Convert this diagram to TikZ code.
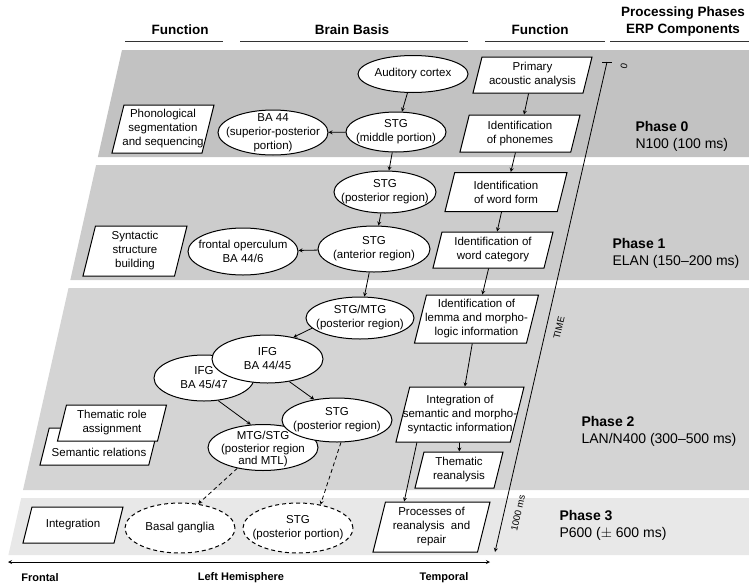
\documentclass[tikz,border=0pt]{standalone}
\usepackage{fontspec}
\setmainfont{Liberation Sans}
\usetikzlibrary{shapes.geometric}
\newcommand{\boxfont}{\fontsize{11.5}{14}\selectfont}
\newcommand{\headfont}{\fontsize{13.5}{17}\selectfont\bfseries}
\newcommand{\phasefont}{\fontsize{14}{17}\selectfont}
\newcommand{\axisfont}{\fontsize{11}{13}\selectfont\bfseries}
\newcommand{\timefont}{\fontsize{9.5}{11}\selectfont}
\begin{document}
\begin{tikzpicture}[>=stealth,x=1pt,y=-1pt,
		brain/.style 2 args={ellipse,draw,fill=white,line width=1pt,inner sep=0pt,minimum width=#1,minimum height=#2},
		task/.style 2 args={trapezium,trapezium left angle=76,trapezium right angle=104,draw,fill=white,line width=1pt,inner xsep={#1/2-#2*0.2493},inner ysep={#2/2}},
		txt/.style={align=center,font=\boxfont,inner sep=0pt},
		flow/.style={->,line width=0.8pt},
		dashpat/.style={dash pattern=on 4pt off 3pt},
		rule/.style={line width=1pt,black!80}]
		\useasboundingbox (0,0) rectangle (749,584);
		\fill[black!24] (122,50) -- (749,50) -- (749,157) -- (97.9,157) -- cycle;
		\fill[black!20] (96.1,165) -- (749,165) -- (749,280) -- (70.3,280) -- cycle;
		\fill[black!17] (68.5,288) -- (749,288) -- (749,490) -- (23,490) -- cycle;
		\fill[black!9] (21.2,498) -- (749,498) -- (749,555) -- (8.4,555) -- cycle;
		\node[font=\headfont] (hfl) at (180,30) {Function};
		\node[font=\headfont] (hbb) at (352,30) {Brain Basis};
		\node[font=\headfont] (hfr) at (540,30) {Function};
		\node[font=\headfont,align=center] (hpp) at (683,21.5) {Processing Phases\\ERP Components};
		\draw[rule] (125,41) -- (223,41);
		\draw[rule] (240,41) -- (468,41);
		\draw[rule] (485,41) -- (605,41);
		\draw[rule] (610,41) -- (749,41);
		\node[anchor=west,align=left,font=\phasefont] (ph0) at (632,136.5) {\textbf{Phase 0}\\N100 (100 ms)};
		\node[anchor=west,align=left,font=\phasefont] (ph1) at (609,253.5) {\textbf{Phase 1}\\ELAN (150--200 ms)};
		\node[anchor=west,align=left,font=\phasefont] (ph2) at (578,431.5) {\textbf{Phase 2}\\LAN/N400 (300--500 ms)};
		\node[anchor=west,align=left,font=\phasefont] (ph3) at (556,525) {\textbf{Phase 3}\\P600 ($\pm$ 600 ms)};
		\coordinate (t0) at (607,62);
		\coordinate (t1) at (495,552);
		\draw[flow] (t0) -- (t1);
		\draw[line width=0.8pt] ([xshift=-5pt]t0) -- ([xshift=5pt]t0);
		\node[rotate=77,font=\timefont] (tzero) at (624,66) {0};
		\node[rotate=77,font=\timefont] (tname) at (559,328) {TIME};
		\node[rotate=77,font=\timefont] (tend) at (518,513) {1000 ms};
		\coordinate (hl) at (8,562);
		\coordinate (hr) at (490,562);
		\draw[<->,line width=0.8pt] (hl) -- (hr);
		\node[font=\axisfont] (front) at (40,578) {Frontal};
		\node[font=\axisfont] (hemi) at (241,578) {Left Hemisphere};
		\node[font=\axisfont] (temp) at (444,578) {Temporal};
		\node[brain={110}{37},label={[txt]center:Auditory cortex}] (aud) at (413,74) {};
		\node[brain={100}{40},label={[txt]center:STG\\(middle portion)}] (stgm) at (396,132) {};
		\node[brain={110}{45},label={[txt]center:BA 44\\(superior-posterior\\portion)}] (ba44) at (273,132.5) {};
		\node[task={102}{48},label={[txt]center:Phonological\\segmentation\\and sequencing}] (phon) at (163,129) {};
		\node[brain={102}{42},label={[txt]center:STG\\(posterior region)}] (stgp1) at (385,192) {};
		\node[brain={112}{46},label={[txt]center:STG\\(anterior region)}] (stga) at (374,249) {};
		\node[brain={110}{47},label={[txt]center:frontal operculum\\BA 44/6}] (frop) at (243,251.5) {};
		\node[task={104}{50},label={[txt]center:Syntactic\\structure\\building}] (synt) at (135,251) {};
		\node[brain={108}{42},label={[txt]center:STG/MTG\\(posterior region)}] (stgmtg) at (360,318) {};
		\node[brain={100}{46},label={[txt]center:IFG\\BA 45/47}] (ifgb) at (204,378) {};
		\node[brain={111}{48},label={[txt]center:IFG\\BA 44/45}] (ifga) at (267.5,359) {};
		\node[brain={110}{46},label={[txt,font=\fontsize{11.5}{12.5}\selectfont,yshift=-2pt]center:MTG/STG\\(posterior region\\and MTL)}] (mtgstg) at (263,447.5) {};
		\node[brain={110}{44},label={[txt]center:STG\\(posterior region)}] (stgp2) at (337,420) {};
		\node[task={118}{37},label={[txt,yshift=-6pt]center:Semantic relations}] (sem) at (99,446.5) {};
		\node[task={109}{36},label={[txt]center:Thematic role\\assignment}] (them) at (112,423) {};
		\node[task={100}{36},label={[txt]center:Integration}] (integ) at (73,525) {};
		\node[brain={110}{50},dashpat,label={[txt]center:Basal ganglia}] (basal) at (180,528) {};
		\node[brain={110}{50},dashpat,label={[txt]center:STG\\(posterior portion)}] (stgpp) at (298,528) {};
		\node[task={119}{36},label={[txt]center:Primary\\acoustic analysis}] (f1) at (532.5,75) {};
		\node[task={120}{37},label={[txt]center:Identification\\of phonemes}] (f2) at (520,133.5) {};
		\node[task={122}{39},label={[txt]center:Identification\\of word form}] (f3) at (506,192) {};
		\node[task={120}{36},label={[txt]center:Identification of\\word category}] (f4) at (493,250) {};
		\node[task={124}{48},label={[txt]center:Identification of\\lemma and morpho-\\logic information}] (f5) at (476.5,319) {};
		\node[task={128}{55},label={[txt]center:Integration of\\semantic and morpho-\\syntactic information}] (f6) at (460,414.5) {};
		\node[task={88}{36},label={[txt]center:Thematic\\reanalysis}] (f7) at (459,470) {};
		\node[task={117}{50},label={[txt]center:Processes of\\reanalysis\ \ and\\repair}] (f8) at (431.5,527) {};
		\draw[flow] (aud) -- (stgm);
		\draw[flow] (stgm) -- (ba44);
		\draw[flow] (stgm) -- (stgp1);
		\draw[flow] (stgp1) -- (stga);
		\draw[flow] (stga) -- (frop);
		\draw[flow] (stga) -- (stgmtg);
		\draw[flow] (stgmtg.192) -- (ifga.40);
		\draw[flow] (ifga.-46) -- (stgp2.138);
		\draw[flow] (ifgb.-58) -- (mtgstg.118);
		\draw[flow,dashpat] (mtgstg.219) -- (basal.53);
		\draw[flow,dashpat] (stgp2.-80) -- (stgpp.46);
		\draw[flow] (f1) -- (f2);
		\draw[flow] (f2) -- (f3);
		\draw[flow] (f3) -- (f4);
		\draw[flow] (f4) -- (f5);
		\draw[flow] (f5) -- (f6);
		\draw[flow] (f6) -- (f7);
		\draw[flow] (f6.213) -- (f8.137);
\end{tikzpicture}
\end{document}
